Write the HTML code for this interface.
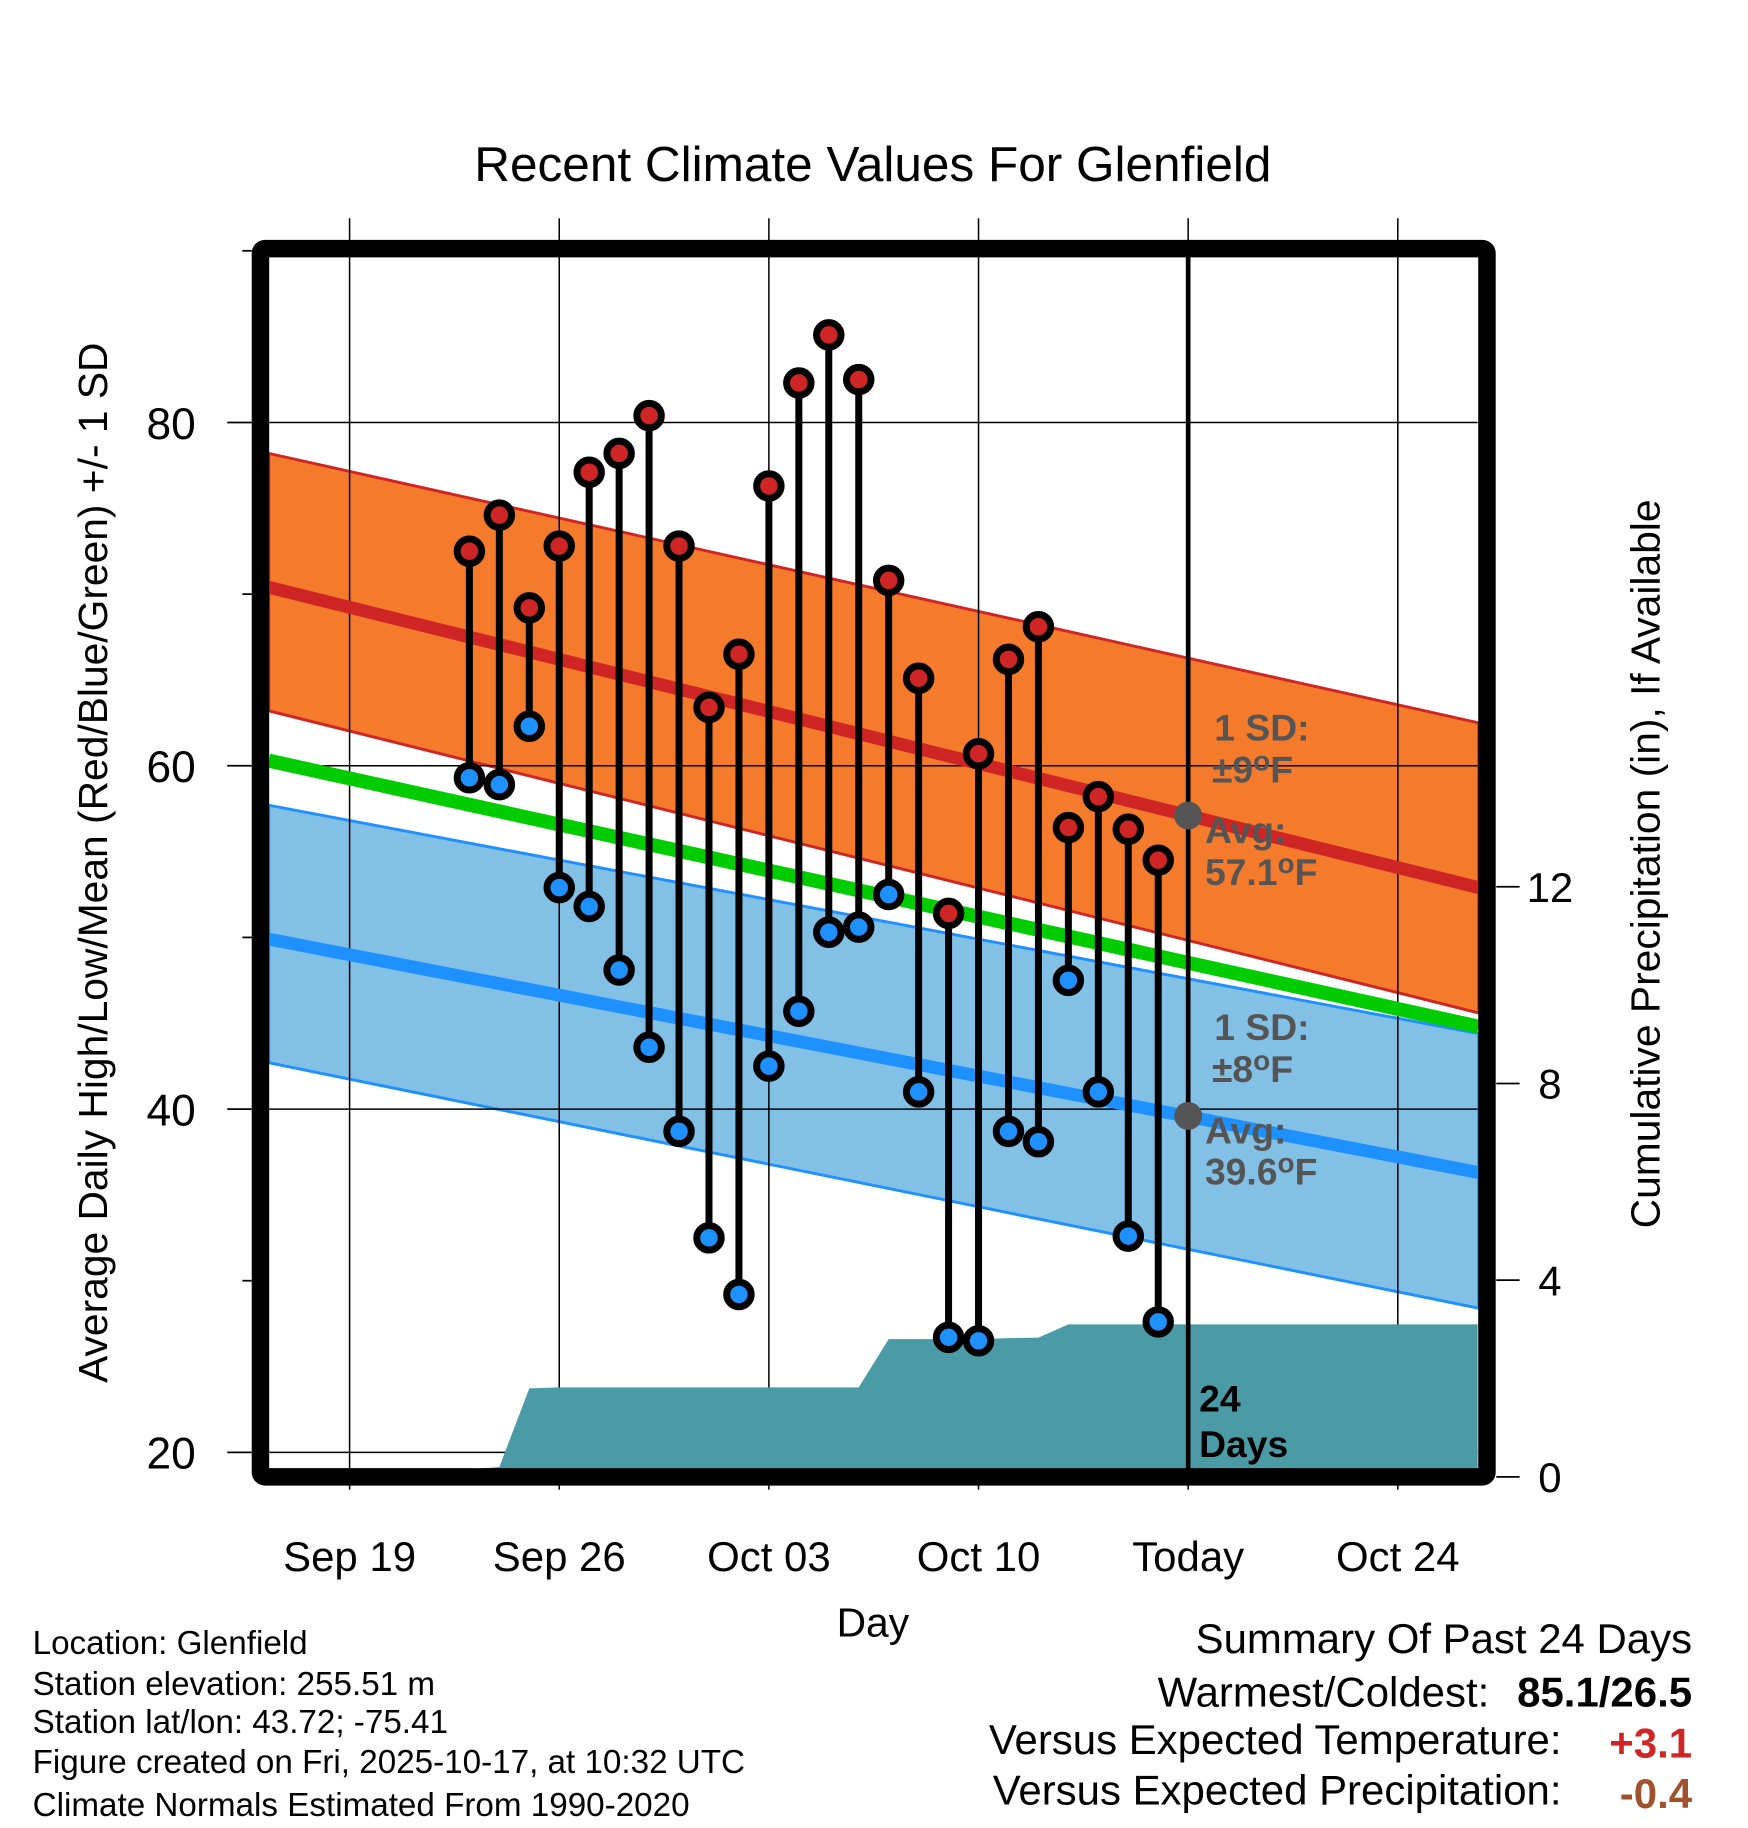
<!DOCTYPE html>
<html><head><meta charset="utf-8"><style>
html,body{margin:0;padding:0;background:#fff}
svg{display:block;font-family:"Liberation Sans",Arial,sans-serif}
</style></head><body>
<svg id="chart" width="1748" height="1828" viewBox="0 0 1500 1568" xmlns="http://www.w3.org/2000/svg">
<text x="749" y="155" font-size="42.5" text-anchor="middle">Recent Climate Values For Glenfield</text>
<g id="bands"></g>
<g id="grid"></g>
<g id="precip"></g>
<g id="lines"></g>
<g id="marks"></g>
<g id="anno" font-weight="bold" font-size="32" fill="#555">
<text x="1042" y="635">1 SD:</text>
<text x="1040" y="671">±9<tspan dy="-10" font-size="24">o</tspan><tspan dy="10">F</tspan></text>
<text x="1034" y="723">Avg:</text>
<text x="1034" y="759">57.1<tspan dy="-10" font-size="24">o</tspan><tspan dy="10">F</tspan></text>
<text x="1042" y="892">1 SD:</text>
<text x="1040" y="928">±8<tspan dy="-10" font-size="24">o</tspan><tspan dy="10">F</tspan></text>
<text x="1034" y="981">Avg:</text>
<text x="1034" y="1016">39.6<tspan dy="-10" font-size="24">o</tspan><tspan dy="10">F</tspan></text>
<text x="1029" y="1211" fill="#000">24</text>
<text x="1029" y="1250" fill="#000">Days</text>
</g>
<rect x="223.5" y="213" width="1052.5" height="1054" fill="none" stroke="#000" stroke-width="15" rx="4"/>
<g id="axes"></g>
<text transform="translate(92,740) rotate(-90)" font-size="35" text-anchor="middle">Average Daily High/Low/Mean (Red/Blue/Green) +/- 1 SD</text>
<text transform="translate(1424,741) rotate(-90)" font-size="35" text-anchor="middle">Cumulative Precipitation (in), If Available</text>
<text x="749" y="1404" font-size="35" text-anchor="middle">Day</text>
<g font-size="28.5">
<text x="28" y="1419">Location: Glenfield</text>
<text x="28" y="1454">Station elevation: 255.51 m</text>
<text x="28" y="1487">Station lat/lon: 43.72; -75.41</text>
<text x="28" y="1521">Figure created on Fri, 2025-10-17, at 10:32 UTC</text>
<text x="28" y="1558">Climate Normals Estimated From 1990-2020</text>
</g>
<g font-size="36" text-anchor="end">
<text x="1452" y="1418">Summary Of Past 24 Days</text>
<text x="1278" y="1464">Warmest/Coldest:</text>
<text x="1452" y="1464" font-weight="bold">85.1/26.5</text>
<text x="1340" y="1505">Versus Expected Temperature:</text>
<text x="1452" y="1508" font-weight="bold" fill="#d02525">+3.1</text>
<text x="1340" y="1548">Versus Expected Precipitation:</text>
<text x="1452" y="1551" font-weight="bold" fill="#a0522d">-0.4</text>
</g>
</svg>
<script>
const days = [4,5,6,7,8,9,10,11,12,13,14,15,16,17,18,19,20,21,22,23,24,25,26,27];
const highs = [72.5,74.6,69.2,72.8,77.1,78.2,80.4,72.8,63.4,66.5,76.3,82.3,85.1,82.5,70.8,65.1,51.4,60.7,66.2,68.1,56.4,58.2,56.3,54.5];
const lows = [59.3,58.9,62.3,52.9,51.8,48.1,43.6,38.7,32.5,29.2,42.5,45.7,50.3,50.6,52.5,41.0,26.7,26.5,38.7,38.1,47.5,41.0,32.6,27.6];
const precip = [0.15,0.2,1.8,1.82,1.82,1.82,1.82,1.82,1.82,1.82,1.82,1.82,1.82,1.82,2.8,2.8,2.8,2.8,2.82,2.83,3.1,3.1,3.1,3.1];
const normEnds = [-2.7, 37.7];
const highMean = [70.4, 52.9];
const highTop = [78.2, 62.5];
const highBot = [63.2, 45.6];
const meanTemp = [60.3, 44.8];
const lowMean = [49.9, 36.3];
const lowTop = [57.7, 44.4];
const lowBot = [42.7, 28.4];
const xTickDays = [0,7,14,21,28,35];
const xTickLabels = ["Sep 19","Sep 26","Oct 03","Oct 10","Today","Oct 24"];
const yTicks = [20,40,60,80];
const yMinor = [30,50,70,90];
const pTicks = [0,4,8,12];
const todayDay = 28;
const todayHigh = 57.1, todayLow = 39.6;

const NS = "http://www.w3.org/2000/svg";
const xS = d => 300 + 25.7*d;
const yS = t => 1246 - (t-20)*14.73;
const pS = p => 1267 - p*42.2;
const XL = 231, XR = 1268;
function mk(parent, tag, attrs){const e=document.createElementNS(NS,tag);for(const k in attrs)e.setAttribute(k,attrs[k]);document.getElementById(parent).appendChild(e);return e;}
function band(top, bot, fill, stroke){
  const x0=xS(normEnds[0]), x1=xS(normEnds[1]);
  return mk("bands","polygon",{points:`${x0},${yS(top[0])} ${x1},${yS(top[1])} ${x1},${yS(bot[1])} ${x0},${yS(bot[0])}`,fill:fill,stroke:stroke,"stroke-width":2.5});
}
let e;
e = band(highTop, highBot, "#f47a2c", "#d02525");


e = band(lowTop, lowBot, "#82c0e6", "#1e90ff");



xTickDays.forEach(d=>{
  e = mk("grid","line",{x1:xS(d),x2:xS(d),y1:187,y2:1278,stroke:"#000","stroke-width":1.3});
  
  
});
yTicks.forEach(t=>{
  e = mk("grid","line",{x1:XL,x2:XR,y1:yS(t),y2:yS(t),stroke:"#000","stroke-width":1.3});
  
  
});

let pts = `${xS(days[0]-0.15)},${pS(0)} ${xS(days[0]-0.15)},${pS(precip[0])}`;
days.forEach((d,i)=>{ pts += ` ${xS(d)},${pS(precip[i])}`; });
pts += ` ${XR},${pS(precip[precip.length-1])} ${XR},${pS(0)}`;
e = mk("precip","polygon",{points:pts,fill:"#4a9ba5"});



function mline(vals,color,w){
  return mk("lines","line",{x1:xS(normEnds[0]),y1:yS(vals[0]),x2:xS(normEnds[1]),y2:yS(vals[1]),stroke:color,"stroke-width":w});
}
e = mline(meanTemp,"#00cc00",12);


e = mline(highMean,"#d02525",11);


e = mline(lowMean,"#1e90ff",11);



e = mk("lines","line",{x1:xS(todayDay),x2:xS(todayDay),y1:220,y2:1262,stroke:"#000","stroke-width":4});


e = mk("lines","circle",{cx:xS(todayDay),cy:yS(todayHigh),r:12,fill:"#555"});


e = mk("lines","circle",{cx:xS(todayDay),cy:yS(todayLow),r:12,fill:"#555"});



days.forEach((d,i)=>{
  e = mk("marks","line",{x1:xS(d),x2:xS(d),y1:yS(highs[i]),y2:yS(lows[i]),stroke:"#000","stroke-width":6});
  
  
});
days.forEach((d,i)=>{
  e = mk("marks","circle",{cx:xS(d),cy:yS(highs[i]),r:10.5,fill:"#d02525",stroke:"#000","stroke-width":6});
  
  
  e = mk("marks","circle",{cx:xS(d),cy:yS(lows[i]),r:10.5,fill:"#1e90ff",stroke:"#000","stroke-width":6});
  
  
});

yTicks.forEach(t=>{
  e = mk("axes","line",{x1:195,x2:216,y1:yS(t),y2:yS(t),stroke:"#000","stroke-width":1.5});
  
  
  e = mk("axes","text",{x:168,y:yS(t)+14,"font-size":38,"text-anchor":"end"});
  e.textContent = String(t);
  
  
});
yMinor.forEach(t=>{
  e = mk("axes","line",{x1:208,x2:216,y1:yS(t),y2:yS(t),stroke:"#000","stroke-width":1.5});
  
  
});
pTicks.forEach(p=>{
  e = mk("axes","line",{x1:1284,x2:1304,y1:pS(p),y2:pS(p),stroke:"#000","stroke-width":1.5});
  
  
  e = mk("axes","text",{x:1330,y:pS(p)+13,"font-size":36,"text-anchor":"middle"});
  e.textContent = String(p);
  
  
});
xTickDays.forEach((d,i)=>{
  e = mk("axes","text",{x:xS(d),y:1348,"font-size":36,"text-anchor":"middle"});
  e.textContent = xTickLabels[i];
  
  
});
</script>
</body></html>
